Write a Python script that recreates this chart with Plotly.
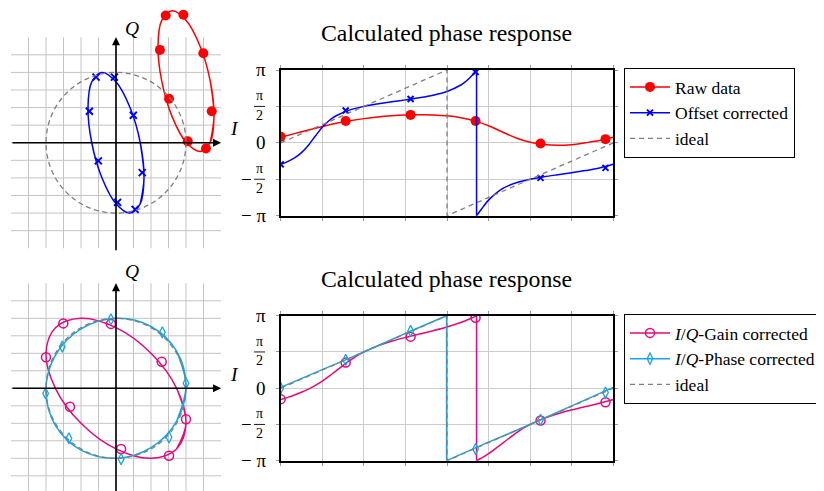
import plotly.graph_objects as go

OFF = 8                      # default page margin of the html body
W, H = 816, 483
FONT = "Liberation Serif"
RED, BLUE, MAG, CYAN, GRAY = "#ff0000", "#0000ff", "#e4097e", "#17a6e3", "#7f7f7f"

# ---------------- data ----------------
# constellation curves (IQ plane), sampled every 30 deg of the test tone, with wrap-around overlap
raw_I = [5.386, 5.6, 5.386, 4.8, 4.0, 3.2, 2.614, 2.4, 2.614, 3.2, 4.0, 4.8, 5.386, 5.6, 5.386]
raw_Q = [0.036, 1.5, 3.5, 5.5, 6.964, 7.5, 6.964, 5.5, 3.5, 1.5, 0.036, -0.5, 0.036, 1.5, 3.5]
off_I = [1.386, 1.6, 1.386, 0.8, 0.0, -0.8, -1.386, -1.6, -1.386, -0.8, 0.0, 0.8, 1.386, 1.6, 1.386]
off_Q = [-3.464, -2.0, 0.0, 2.0, 3.464, 4.0, 3.464, 2.0, 0.0, -2.0, -3.464, -4.0, -3.464, -2.0, 0.0]
gain_I = [3.464, 4.0, 3.464, 2.0, 0.0, -2.0, -3.464, -4.0, -3.464, -2.0, 0.0, 2.0, 3.464, 4.0, 3.464]
gain_Q = [-3.464, -2.0, 0.0, 2.0, 3.464, 4.0, 3.464, 2.0, 0.0, -2.0, -3.464, -4.0, -3.464, -2.0, 0.0]
phc_I = [3.464, 4.0, 3.464, 2.0, 0.0, -2.0, -3.464, -4.0, -3.464, -2.0, 0.0, 2.0, 3.464, 4.0, 3.464]
phc_Q = [-1.878, 0.140, 2.120, 3.532, 3.998, 3.392, 1.878, -0.140, -2.120, -3.532, -3.998, -3.392, -1.878, 0.140, 2.120]
ideal_radius = 4

# constellation marks
raw_mI = [2.84, 3.85, 2.51, 4.99, 3.03, 5.47, 4.10, 5.14]
raw_mQ = [7.24, 7.28, 5.28, 5.09, 2.50, 1.79, 0.08, -0.33]
off_mI = [-1.14, -0.09, -1.52, 0.99, -1.01, 1.50, 0.09, 1.09]
off_mQ = [3.73, 3.73, 1.79, 1.56, -1.03, -1.70, -3.39, -3.79]
gain_mI = [-3.01, -0.29, -4.00, 2.61, -2.63, 4.00, 0.29, 3.03]
gain_mQ = [3.71, 3.68, 1.77, 1.52, -1.05, -1.77, -3.47, -3.85]
phc_mI = [-0.29, 2.65, -3.07, 4.00, -4.02, 3.03, -2.69, 0.29]
phc_mQ = [3.94, 3.20, 2.38, 0.29, -0.29, -2.80, -2.86, -4.04]

# phase responses (y in units of pi), x = sample position 0..8
raw_px = [0, 0.3333, 0.6667, 1.0, 1.3333, 1.6667, 2.0, 2.3333, 2.6667, 3.0, 3.3333, 3.6667, 4.0,
          4.3333, 4.6667, 5.0, 5.3333, 5.6667, 6.0, 6.3333, 6.6667, 7.0, 7.3333, 7.6667, 8.0]
raw_py = [0.0769, 0.1266, 0.1776, 0.2256, 0.2681, 0.3038, 0.3326, 0.3551, 0.3716, 0.3823, 0.3867, 0.3838, 0.3715,
          0.3459, 0.3017, 0.2344, 0.1493, 0.0675, 0.0086, -0.0234, -0.0329, -0.0246, 0.0019, 0.0329, 0.0769]

pre_x = [0, 0.1667, 0.3333, 0.5, 0.6667, 0.8333, 1.0, 1.1667, 1.3333, 1.6667, 2.0, 2.3333, 2.6667, 3.0,
         3.3333, 3.6667, 4.0, 4.3333, 4.4444, 4.5556, 4.6667, 4.7111]
post_x = [4.7111, 4.7778, 4.8889, 5.0, 5.3333, 5.6667, 6.0, 6.3333, 6.6667, 7.0, 7.3333, 7.6667, 8.0]
off_pre_y = [-0.2942, -0.2571, -0.2062, -0.1337, -0.0320, 0.0934, 0.2138, 0.3066, 0.3718, 0.4521, 0.5, 0.5343,
             0.5629, 0.5899, 0.6190, 0.6547, 0.7058, 0.7938, 0.8392, 0.8968, 0.9681, 1.0]
off_post_y = [-1.0, -0.9496, -0.8643, -0.7862, -0.6282, -0.5479, -0.5, -0.4657, -0.4371, -0.4101, -0.3810,
              -0.3453, -0.2942]
gain_pre_y = [-0.1551, -0.1261, -0.0936, -0.0563, -0.0128, 0.0383, 0.0981, 0.1662, 0.2400, 0.3846, 0.5, 0.5841,
              0.6477, 0.6998, 0.7469, 0.7937, 0.8449, 0.9064, 0.9307, 0.9574, 0.9872, 1.0]
gain_post_y = [-1.0, -0.9797, -0.9428, -0.9019, -0.7600, -0.6154, -0.5, -0.4159, -0.3523, -0.3002, -0.2531,
               -0.2063, -0.1551]
phc_pre_x = [0, 1.0, 2.0, 3.0, 3.99]
phc_pre_y = [0.0111, 0.2554, 0.5, 0.7558, 1.0]
phc_post_x = [3.99, 5.0, 6.0, 7.0, 8.0]
phc_post_y = [-1.0, -0.7446, -0.5, -0.2442, 0.0111]
ideal_x = [0, 4, 4, 8]
ideal_y = [0, 1, -1, 0]

# phase-plot marks
mark_x = [0, 1.5625, 3.125, 4.6875, 6.25, 7.8125]
raw_my = [0.083, 0.301, 0.384, 0.300, -0.009, 0.051]
off_my = [-0.296, 0.444, 0.602, 0.972, -0.481, -0.343]
gain_my = [-0.151, 0.353, 0.711, 0.972, -0.445, -0.193]
phc_my = [0.0, 0.390, 0.789, -0.839, -0.436, -0.060]

names_top = ["Raw data", "Offset corrected", "ideal"]
names_bot = ["<i>I</i>/<i>Q</i>-Gain corrected", "<i>I</i>/<i>Q</i>-Phase corrected", "ideal"]
title_text = "Calculated phase response"
ytick_vals = [-1, -0.5, 0, 0.5, 1]


def px(v):
    return (v - OFF) / W


def py(v):
    return 1 - (v - OFF) / H


def jumped(xa, ya, xb, yb):
    return xa + [None, xa[-1], xb[0], None] + xb, ya + [None, ya[-1], yb[0], None] + yb


fig = go.Figure()
NL = dict(showlegend=False, hoverinfo="skip")

# ---------- top constellation ----------
fig.add_trace(go.Scatter(x=raw_I, y=raw_Q, mode="lines", line=dict(color=RED, width=1.5, shape="spline"),
                         xaxis="x", yaxis="y", **NL))
fig.add_trace(go.Scatter(x=raw_mI, y=raw_mQ, mode="markers", marker=dict(color=RED, size=10),
                         xaxis="x", yaxis="y", **NL))
fig.add_trace(go.Scatter(x=off_I, y=off_Q, mode="lines", line=dict(color=BLUE, width=1.5, shape="spline"),
                         xaxis="x", yaxis="y", **NL))
fig.add_trace(go.Scatter(x=off_mI, y=off_mQ, mode="markers",
                         marker=dict(symbol="x-thin", size=7, color=BLUE, line=dict(color=BLUE, width=2)),
                         xaxis="x", yaxis="y", **NL))
# ---------- bottom constellation ----------
fig.add_trace(go.Scatter(x=gain_I, y=gain_Q, mode="lines", line=dict(color=MAG, width=1.5, shape="spline"),
                         xaxis="x3", yaxis="y3", **NL))
fig.add_trace(go.Scatter(x=gain_mI, y=gain_mQ, mode="markers",
                         marker=dict(symbol="circle-open", size=9, color=MAG, line=dict(color=MAG, width=1.5)),
                         xaxis="x3", yaxis="y3", **NL))
fig.add_trace(go.Scatter(x=phc_I, y=phc_Q, mode="lines", line=dict(color=CYAN, width=1.5, shape="spline"),
                         xaxis="x3", yaxis="y3", **NL))
fig.add_trace(go.Scatter(x=phc_mI, y=phc_mQ, mode="markers",
                         marker=dict(symbol="diamond-tall-open", size=8, color=CYAN, line=dict(color=CYAN, width=1.3)),
                         xaxis="x3", yaxis="y3", **NL))

# ---------- top phase response ----------
fig.add_trace(go.Scatter(x=[None], y=[None], mode="lines+markers", name=names_top[0], legend="legend",
                         line=dict(color=RED, width=1.5), marker=dict(color=RED, size=10), xaxis="x2", yaxis="y2"))
fig.add_trace(go.Scatter(x=[None], y=[None], mode="lines+markers", name=names_top[1], legend="legend",
                         line=dict(color=BLUE, width=1.5),
                         marker=dict(symbol="x-thin", size=6, color=BLUE, line=dict(color=BLUE, width=2)),
                         xaxis="x2", yaxis="y2"))
fig.add_trace(go.Scatter(x=raw_px, y=raw_py, mode="lines", line=dict(color=RED, width=1.5, shape="spline"),
                         xaxis="x2", yaxis="y2", **NL))
fig.add_trace(go.Scatter(x=mark_x, y=raw_my, mode="markers", marker=dict(color=RED, size=10),
                         xaxis="x2", yaxis="y2", **NL))
ox, oy = jumped(pre_x, off_pre_y, post_x, off_post_y)
fig.add_trace(go.Scatter(x=ox, y=oy, mode="lines", line=dict(color=BLUE, width=1.5, shape="spline"),
                         xaxis="x2", yaxis="y2", **NL))
fig.add_trace(go.Scatter(x=mark_x, y=off_my, mode="markers",
                         marker=dict(symbol="x-thin", size=6, color=BLUE, line=dict(color=BLUE, width=2)),
                         xaxis="x2", yaxis="y2", **NL))
fig.add_trace(go.Scatter(x=ideal_x, y=ideal_y, mode="lines", name=names_top[2], legend="legend",
                         line=dict(color=GRAY, width=1.3, dash="5px,4px"), xaxis="x2", yaxis="y2",
                         hoverinfo="skip"))

# ---------- bottom phase response ----------
fig.add_trace(go.Scatter(x=[None], y=[None], mode="lines+markers", name=names_bot[0], legend="legend2",
                         line=dict(color=MAG, width=1.5),
                         marker=dict(symbol="circle-open", size=9, color=MAG, line=dict(color=MAG, width=1.5)),
                         xaxis="x4", yaxis="y4"))
fig.add_trace(go.Scatter(x=[None], y=[None], mode="lines+markers", name=names_bot[1], legend="legend2",
                         line=dict(color=CYAN, width=1.5),
                         marker=dict(symbol="diamond-tall-open", size=8, color=CYAN, line=dict(color=CYAN, width=1.3)),
                         xaxis="x4", yaxis="y4"))
gx, gy = jumped(pre_x, gain_pre_y, post_x, gain_post_y)
fig.add_trace(go.Scatter(x=gx, y=gy, mode="lines", line=dict(color=MAG, width=1.5, shape="spline"),
                         xaxis="x4", yaxis="y4", **NL))
fig.add_trace(go.Scatter(x=mark_x, y=gain_my, mode="markers",
                         marker=dict(symbol="circle-open", size=9, color=MAG, line=dict(color=MAG, width=1.5)),
                         xaxis="x4", yaxis="y4", **NL))
cx, cy = jumped(phc_pre_x, phc_pre_y, phc_post_x, phc_post_y)
fig.add_trace(go.Scatter(x=cx, y=cy, mode="lines", line=dict(color=CYAN, width=1.5, shape="spline"),
                         xaxis="x4", yaxis="y4", **NL))
fig.add_trace(go.Scatter(x=mark_x, y=phc_my, mode="markers",
                         marker=dict(symbol="diamond-tall-open", size=8, color=CYAN, line=dict(color=CYAN, width=1.3)),
                         xaxis="x4", yaxis="y4", **NL))
fig.add_trace(go.Scatter(x=ideal_x, y=ideal_y, mode="lines", name=names_bot[2], legend="legend2",
                         line=dict(color=GRAY, width=1.3, dash="5px,4px"), xaxis="x4", yaxis="y4",
                         hoverinfo="skip"))

# ---------- shapes: constellation grids + ideal circles ----------
shapes = []
annotations = []
for xr, yr in (("x", "y"), ("x3", "y3")):
    for k in range(-5, 6):
        shapes.append(dict(type="line", xref=xr, yref=yr, x0=k, x1=k, y0=-6, y1=6,
                           line=dict(color="#c4c4c4", width=1), layer="below"))
        shapes.append(dict(type="line", xref=xr, yref=yr, x0=-6, x1=6, y0=k, y1=k,
                           line=dict(color="#c4c4c4", width=1), layer="below"))
    shapes.append(dict(type="circle", xref=xr, yref=yr, x0=-ideal_radius, x1=ideal_radius,
                       y0=-ideal_radius, y1=ideal_radius, line=dict(color=GRAY, width=1.3, dash="5px,3.5px"),
                       layer="above"))
    annotations.append(dict(x=6, y=0, ax=-6, ay=0, xref=xr, yref=yr, axref=xr, ayref=yr, text="",
                            showarrow=True, arrowhead=2, arrowsize=1, arrowwidth=1.6, arrowcolor="black"))
    annotations.append(dict(x=0, y=6, ax=0, ay=-6.2, xref=xr, yref=yr, axref=xr, ayref=yr, text="",
                            showarrow=True, arrowhead=2, arrowsize=1, arrowwidth=1.6, arrowcolor="black"))

C = dict(xanchor="center", yanchor="middle", showarrow=False)
# axis labels of constellation plots
lab = dict(xref="paper", yref="paper", font=dict(family=FONT, size=19.5, color="black"), **C)
annotations += [
    dict(text="<i>Q</i>", x=px(132), y=py(28.5), **lab),
    dict(text="<i>I</i>", x=px(234.5), y=py(128.3), **lab),
    dict(text="<i>Q</i>", x=px(132), y=py(271.7), **lab),
    dict(text="<i>I</i>", x=px(234), y=py(374.7), **lab),
]

# titles
for ty in (33, 278.6):
    annotations.append(dict(text=title_text, x=px(446.5), y=py(ty), xref="paper", yref="paper",
                            font=dict(family=FONT, size=23.8, color="black"), **C))

# y tick labels of the phase plots (pi fractions)
for yr in ("y2", "y4"):
    big = dict(xref="paper", yref=yr, showarrow=False, yanchor="middle",
               font=dict(family=FONT, size=19, color="black"))
    small = dict(xref="paper", yref=yr, showarrow=False, yanchor="middle", xanchor="center",
                 font=dict(family=FONT, size=14, color="black"))
    annotations += [
        dict(text="π", x=px(267.5), y=1, xanchor="right", **big),
        dict(text="0", x=px(267.5), y=0, xanchor="right", **big),
        dict(text="− π", x=px(267.5), y=-1, xanchor="right", **big),
        dict(text="−", x=px(246), y=-0.5, xanchor="center", **big),
    ]
    for v in (0.5, -0.5):
        annotations.append(dict(text="π", x=px(259.5), y=v, yshift=10.5, **small))
        annotations.append(dict(text="2", x=px(259.5), y=v, yshift=-9, **small))
        shapes.append(dict(type="line", xref="paper", yref=yr, x0=px(254), x1=px(265), y0=v, y1=v,
                           line=dict(color="black", width=0.9)))

iq_x = dict(domain=[px(9), px(249)], range=[-6.1143, 7.6], visible=False, fixedrange=True)
ph_x = dict(domain=[px(280.7), px(613.3)], range=[0, 8], tickvals=list(range(9)), showticklabels=False,
            ticks="outside", ticklen=3, tickcolor="#999999", showgrid=True, gridcolor="#cccccc", gridwidth=1,
            showline=True, linecolor="black", linewidth=1.6, mirror="ticks", zeroline=False)
ph_y = dict(range=[-1, 1], tickvals=ytick_vals, showticklabels=False,
            ticks="outside", ticklen=3, tickcolor="#999999", showgrid=True, gridcolor="#cccccc", gridwidth=1,
            showline=True, linecolor="black", linewidth=1.6, mirror="ticks", zeroline=False)

leg = dict(xanchor="left", yanchor="top", bordercolor="black", borderwidth=1, bgcolor="white",
           font=dict(family=FONT, size=17.5, color="black"), itemwidth=40, tracegroupgap=0)

fig.update_layout(
    width=W, height=H, margin=dict(l=0, r=0, t=0, b=0, autoexpand=False),
    paper_bgcolor="white", plot_bgcolor="rgba(0,0,0,0)",
    xaxis=dict(iq_x, anchor="y"),
    yaxis=dict(domain=[py(255.3), py(9)], range=[-6.4, 7.6057], visible=False, fixedrange=True, anchor="x"),
    xaxis3=dict(iq_x, anchor="y3"),
    yaxis3=dict(domain=[py(490.7), py(278.05)], range=[-5.85, 6.3], visible=False, fixedrange=True, anchor="x3"),
    xaxis2=dict(ph_x, anchor="y2"),
    yaxis2=dict(ph_y, domain=[py(215.7), py(70)], anchor="x2"),
    xaxis4=dict(ph_x, anchor="y4"),
    yaxis4=dict(ph_y, domain=[py(460.7), py(315.7)], anchor="x4"),
    showlegend=True,
    legend=dict(leg, x=px(624), y=py(68)),
    legend2=dict(leg, x=px(624), y=py(314)),
    shapes=shapes, annotations=annotations,
)

fig.write_html("out.html")
